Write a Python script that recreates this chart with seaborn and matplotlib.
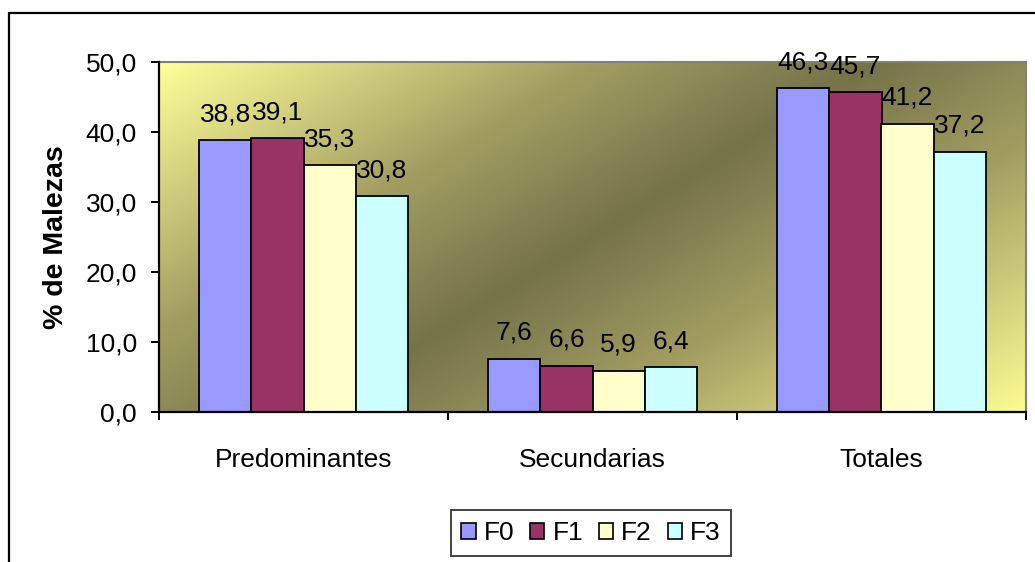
import numpy as np
import pandas as pd
import seaborn as sns
import matplotlib.pyplot as plt
from matplotlib.colors import LinearSegmentedColormap
from matplotlib.patches import Rectangle, Patch

# data
categorias = ["Predominantes", "Secundarias", "Totales"]
series = ["F0", "F1", "F2", "F3"]
f0 = [38.8, 7.6, 46.3]
f1 = [39.1, 6.6, 45.7]
f2 = [35.3, 5.9, 41.2]
f3 = [30.8, 6.4, 37.2]
colores = ["#9999FF", "#993366", "#FFFFCC", "#CCFFFF"]

df = pd.DataFrame({
    "Categoria": categorias * 4,
    "Serie": [s for s in series for _ in categorias],
    "Valor": f0 + f1 + f2 + f3,
})

sns.set_style("white")
plt.rcParams["font.family"] = ["Liberation Sans", "DejaVu Sans"]
plt.rcParams["text.color"] = "black"
plt.rcParams["axes.labelcolor"] = "black"
plt.rcParams["xtick.color"] = "black"
plt.rcParams["ytick.color"] = "black"

fig = plt.figure(figsize=(10.35, 5.62), dpi=100)
ax = fig.add_axes([159 / 1035, 1 - 412 / 562, 867 / 1035, 350 / 562])

sns.barplot(data=df, x="Categoria", y="Valor", hue="Serie", order=categorias,
            hue_order=series, palette=colores, width=0.72, gap=0,
            edgecolor="black", linewidth=1.3, saturation=1, legend=False, ax=ax)

# background gradient of the plot area (yellow -> olive -> yellow, diagonal)
xx, yy = np.meshgrid(np.linspace(0, 1, 400), np.linspace(0, 1, 200))
t = (xx + 0.65 * yy) / 1.65
cmap = LinearSegmentedColormap.from_list(
    "fondo", [(0, "#FFFF99"), (0.3, "#A29E62"), (0.5, "#757349"),
              (0.7, "#A29E62"), (1, "#FCFC94")])
ax.imshow(t, cmap=cmap, extent=(-0.5, 2.5, 0, 50), aspect="auto", zorder=0,
          origin="upper", vmin=0, vmax=1)
ax.set_xlim(-0.5, 2.5)
ax.set_ylim(0, 50)

# value labels with decimal comma
for cont, vals in zip(ax.containers, [f0, f1, f2, f3]):
    ax.bar_label(cont, labels=[f"{v:.1f}".replace(".", ",") for v in vals],
                 padding=10, fontsize=19, color="black")

# axes styling
ax.set_yticks(range(0, 51, 10))
ax.set_yticklabels([f"{v:.1f}".replace(".", ",") for v in range(0, 51, 10)], fontsize=19)
ax.tick_params(axis="y", length=6, width=1.4, color="black", direction="out", pad=10, left=True)
ax.set_xticks([-0.5, 0.5, 1.5, 2.5])
ax.set_xticklabels([])
ax.tick_params(axis="x", length=6, width=1.4, color="black", direction="out", bottom=True)
ax.set_xticks([0, 1, 2], minor=True)
ax.set_xticklabels(categorias, minor=True, fontsize=19)
ax.tick_params(axis="x", which="minor", length=0, pad=26)
ax.set_xlabel("")
ax.set_ylabel("% de Malezas", fontsize=20.5, fontweight="bold", labelpad=12)

for side in ["top", "right"]:
    ax.spines[side].set_color("#808080")
    ax.spines[side].set_linewidth(1.5)
for side in ["left", "bottom"]:
    ax.spines[side].set_color("black")
    ax.spines[side].set_linewidth(1.6)
    ax.spines[side].set_zorder(5)

# legend
handles = [Patch(facecolor=c, edgecolor="black", linewidth=1.2) for c in colores]
leg = ax.legend(handles, series, loc="center", bbox_to_anchor=(591 / 1035, 1 - 533 / 562),
                bbox_transform=fig.transFigure, ncol=4, frameon=True, fancybox=False,
                edgecolor="black", fontsize=19, handlelength=0.55, handleheight=0.55,
                columnspacing=0.6, handletextpad=0.3, borderpad=0.4, borderaxespad=0)
leg.get_frame().set_linewidth(1.3)

# outer chart frame (cropped on the right and bottom)
fig.patches.append(Rectangle((9 / 1035, -0.1), 1.2, 1 - 13 / 562 + 0.1, transform=fig.transFigure,
                             fill=False, edgecolor="black", linewidth=1.6))

fig.savefig("out.png", dpi=100)
